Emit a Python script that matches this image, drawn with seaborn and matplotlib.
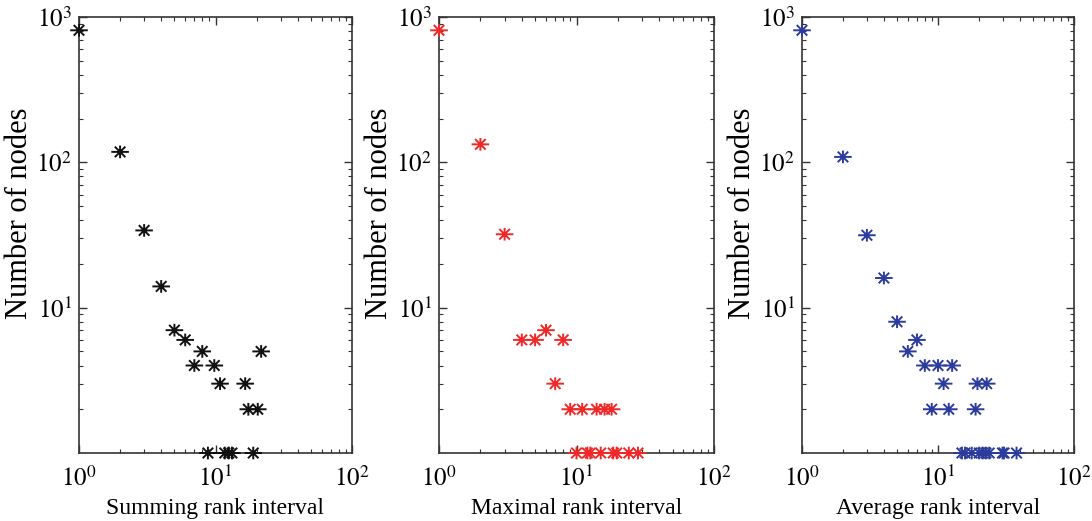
import numpy as np
import matplotlib
matplotlib.use("Agg")
import matplotlib.pyplot as plt
from matplotlib.path import Path
from matplotlib.ticker import LogLocator, FixedLocator, FixedFormatter, NullFormatter
import seaborn as sns

# ---- data ----
sum_x = [1, 2, 3, 4, 5, 6, 7, 8, 8.8, 9.8, 10.8, 11.7, 12.5, 13.2, 16.5, 17.4, 18.9, 20.4, 21.6]
sum_y = [810, 118, 34, 14, 7, 6, 4, 5, 1, 4, 3, 1, 1, 1, 3, 2, 1, 2, 5]

max_x = [1, 2, 3, 4, 5, 6, 7, 8, 9, 11, 14, 16, 18, 10, 12, 12.6, 15, 18.5, 19.6, 24, 28]
max_y = [810, 133, 32, 6, 6, 7, 3, 6, 2, 2, 2, 2, 2, 1, 1, 1, 1, 1, 1, 1, 1]

avg_x = [1, 2, 3, 4, 5, 6, 7, 8, 10, 12.7, 11, 19.5, 22.8, 9, 12, 18.9,
         15, 15.8, 17.7, 20.1, 21.3, 22.5, 23.8, 29.8, 30.6, 37.8]
avg_y = [810, 109, 31.5, 16, 8, 5, 6, 4, 4, 4, 3, 3, 3, 2, 2, 2,
         1, 1, 1, 1, 1, 1, 1, 1, 1, 1]

xlabels = ["Summing rank interval", "Maximal rank interval", "Average rank interval"]
ylabel = "Number of nodes"
colors = ["#111111", "#f02828", "#2c3c9c"]

# ---- style ----
sns.set_theme(style="ticks")
plt.rcParams["font.family"] = ["Liberation Serif", "DejaVu Serif"]
plt.rcParams["mathtext.fontset"] = "stix"
plt.rcParams["text.color"] = "black"
plt.rcParams["axes.labelcolor"] = "black"
plt.rcParams["xtick.labelcolor"] = "black"
plt.rcParams["ytick.labelcolor"] = "black"

# asterisk marker (plus + short diagonals)
d = 0.3
verts = [(-0.5, 0), (0.5, 0), (0, -0.36), (0, 0.36),
         (-d, -d), (d, d), (-d, d), (d, -d)]
codes = [Path.MOVETO, Path.LINETO] * 4
star = Path(verts, codes)

fig = plt.figure(figsize=(10.92, 5.21), dpi=100)
W, H = 1092, 521
lefts = [79, 439, 802]
rights = [352, 714, 1074]
top, bottom = 17, 453

datasets = [(sum_x, sum_y), (max_x, max_y), (avg_x, avg_y)]
for i in range(3):
    ax = fig.add_axes([lefts[i] / W, (H - bottom) / H,
                       (rights[i] - lefts[i]) / W, (bottom - top) / H])
    x, y = datasets[i]
    sns.scatterplot(x=x, y=y, ax=ax, marker=star, s=160,
                    facecolor="none", edgecolor=colors[i], linewidth=1.4,
                    clip_on=False, zorder=5, legend=False)
    ax.set_xscale("log")
    ax.set_yscale("log")
    ax.set_xlim(1, 100)
    ax.set_ylim(1, 1000)
    ax.xaxis.set_major_locator(FixedLocator([1, 10, 100]))
    ax.xaxis.set_major_formatter(FixedFormatter([r"$10^{0}$", r"$10^{1}$", r"$10^{2}$"]))
    ax.yaxis.set_major_locator(FixedLocator([10, 100, 1000]))
    ax.yaxis.set_major_formatter(FixedFormatter([r"$10^{1}$", r"$10^{2}$", r"$10^{3}$"]))
    ax.xaxis.set_minor_locator(LogLocator(base=10, subs=np.arange(2, 10), numticks=20))
    ax.yaxis.set_minor_locator(LogLocator(base=10, subs=np.arange(2, 10), numticks=20))
    ax.xaxis.set_minor_formatter(NullFormatter())
    ax.yaxis.set_minor_formatter(NullFormatter())
    ax.tick_params(which="both", direction="in", top=True, right=True,
                   color="#333333", labelsize=18)
    ax.tick_params(axis="x", which="major", pad=9)
    ax.tick_params(axis="y", which="major", pad=5)
    ax.tick_params(which="major", length=6, width=1)
    ax.tick_params(which="minor", length=3, width=0.8)
    for sp in ax.spines.values():
        sp.set_color("#333333")
        sp.set_linewidth(1.2)
    ax.set_xlabel(xlabels[i], fontsize=17, labelpad=5)
    ax.set_ylabel(ylabel, fontsize=22, va="center")
    ax.yaxis.set_label_coords(-0.217, 0.55)

fig.savefig("out.png", dpi=100)
